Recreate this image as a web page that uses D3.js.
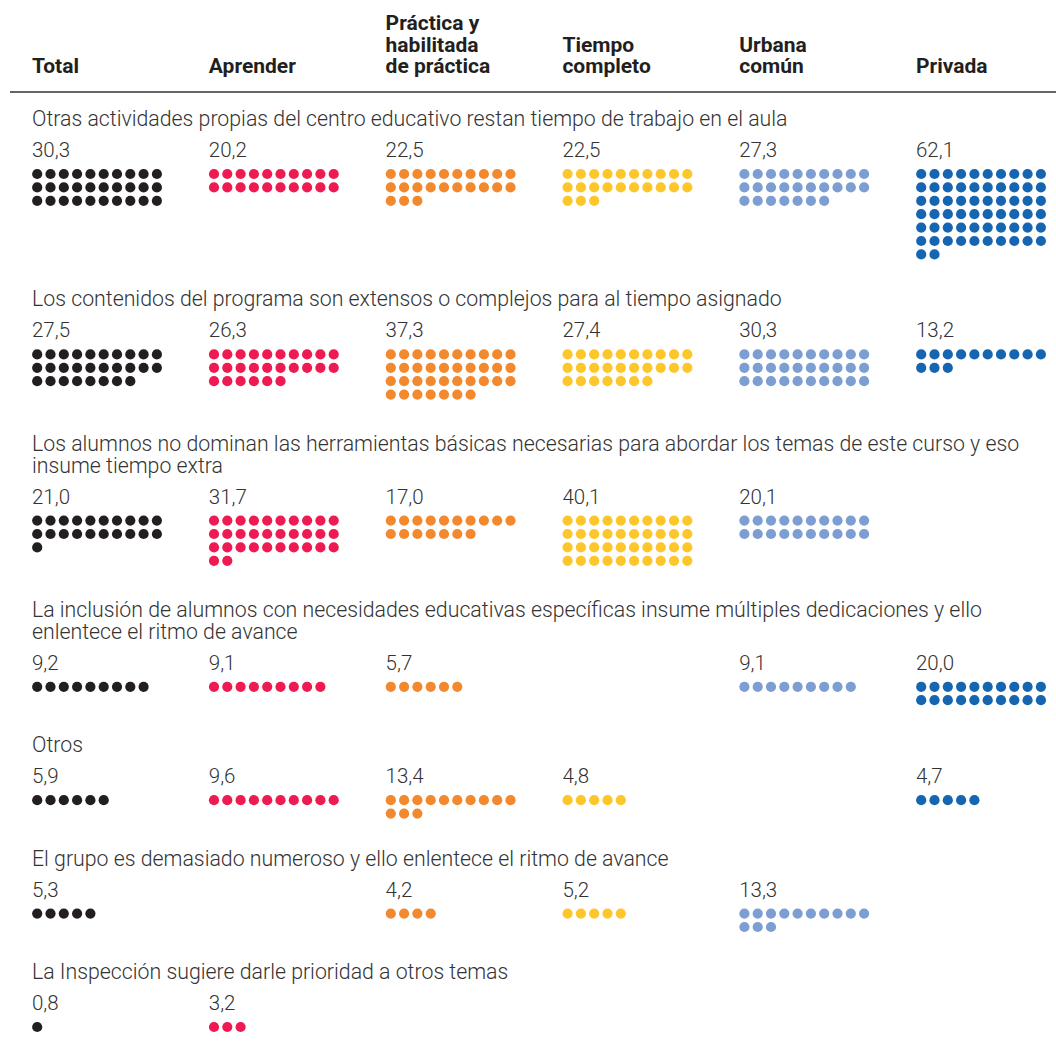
<!DOCTYPE html>
<html>
<head>
<meta charset="utf-8">
<script src="https://cdn.jsdelivr.net/npm/d3@7"></script>
<style>
    body { margin: 0; background: #fff; }
    #chart { width: 1056px; height: 1046px; }
    text { font-family: Roboto, "Noto Sans", sans-serif; }
    .head { font-weight: 700; font-size: 21px; fill: #231f20; }
    .question { font-weight: 300; font-size: 21.3px; fill: #333; }
    .value { font-weight: 300; font-size: 20.5px; fill: #333; }
</style>
</head>
<body>
<div id="chart"></div>
<script>

// columnas (cabezales en una o varias lineas)
var columns = ["Total", "Aprender", "Práctica", "Tiempo", "Urbana", "Privada"];
var columnLabels = [
    ["Total"],
    ["Aprender"],
    ["Práctica y", "habilitada", "de práctica"],
    ["Tiempo", "completo"],
    ["Urbana", "común"],
    ["Privada"]
];
var columnColors = ["#231f20", "#ee1a52", "#f3892e", "#fdc62b", "#7d9ed3", "#1565b1"];

// preguntas (texto ya cortado en lineas como en el original)
var questions = [
    ["Otras actividades propias del centro educativo restan tiempo de trabajo en el aula"],
    ["Los contenidos del programa son extensos o complejos para al tiempo asignado"],
    ["Los alumnos no dominan las herramientas básicas necesarias para abordar los temas de este curso y eso", "insume tiempo extra"],
    ["La inclusión de alumnos con necesidades educativas específicas insume múltiples dedicaciones y ello", "enlentece el ritmo de avance"],
    ["Otros"],
    ["El grupo es demasiado numeroso y ello enlentece el ritmo de avance"],
    ["La Inspección sugiere darle prioridad a otros temas"]
];

// porcentajes por pregunta, en el orden de columns (null = sin dato)
var values = [
    [30.3, 20.2, 22.5, 22.5, 27.3, 62.1],
    [27.5, 26.3, 37.3, 27.4, 30.3, 13.2],
    [21.0, 31.7, 17.0, 40.1, 20.1, null],
    [9.2, 9.1, 5.7, null, 9.1, 20.0],
    [5.9, 9.6, 13.4, 4.8, null, 4.7],
    [5.3, null, 4.2, 5.2, 13.3, null],
    [0.8, 3.2, null, null, null, null]
];

var perRow = 10;

var width = document.querySelector("#chart").clientWidth;
var height = document.querySelector("#chart").clientHeight;

var svg = d3.select("#chart")
    .append("svg")
    .attr("width", width)
    .attr("height", height);

var xScale = d3.scaleBand()
    .domain(columns)
    .range([32, 32 + 6 * 176.8]);

var dotX = d3.scaleLinear().domain([0, 1]).range([5.2, 5.2 + 13.3]);
var dotY = d3.scaleLinear().domain([0, 1]).range([0, 13.4]);

var color = d3.scaleOrdinal().domain(columns).range(columnColors);

var fmt = function(v) { return d3.format(".1f")(v).replace(".", ","); };

// cabezales
var headBottom = 73;
var lineH = 22;

columns.forEach(function(c, i) {
    var lines = columnLabels[i];
    svg.append("g")
        .selectAll("text")
        .data(lines)
        .enter()
        .append("text")
            .attr("class", "head")
            .attr("x", xScale(c))
            .attr("y", function(d, j) { return headBottom - (lines.length - 1 - j) * 21.5; })
            .text(function(d) { return d; });
});

svg.append("line")
    .attr("x1", 10)
    .attr("x2", width)
    .attr("y1", 92)
    .attr("y2", 92)
    .attr("stroke", "#333")
    .attr("stroke-width", 1.5);

// bloques
var y = 126;

questions.forEach(function(q, qi) {

    var g = svg.append("g");

    // las preguntas en dos lineas llevan algo mas de aire arriba
    if (qi > 0) y += (q.length - 1) * 4;

    g.selectAll("text.question")
        .data(q)
        .enter()
        .append("text")
            .attr("class", "question")
            .attr("x", 32)
            .attr("y", function(d, j) { return y + j * lineH; })
            .text(function(d) { return d; });

    var valueY = y + (q.length - 1) * lineH + 31;
    var dotTop = valueY + 17;

    var cells = columns.map(function(c, i) {
        return { col: c, value: values[qi][i] };
    }).filter(function(d) { return d.value !== null; });

    g.selectAll("text.value")
        .data(cells)
        .enter()
        .append("text")
            .attr("class", "value")
            .attr("x", function(d) { return xScale(d.col); })
            .attr("y", valueY)
            .text(function(d) { return fmt(d.value); });

    var maxRows = 0;

    cells.forEach(function(d) {
        var n = Math.round(d.value);
        var dots = d3.range(n);
        maxRows = Math.max(maxRows, Math.ceil(n / perRow));

        g.append("g")
            .selectAll("circle")
            .data(dots)
            .enter()
            .append("circle")
                .attr("cx", function(k) { return xScale(d.col) + dotX(k % perRow); })
                .attr("cy", function(k) { return dotTop + dotY(Math.floor(k / perRow)); })
                .attr("r", 5.1)
                .attr("fill", color(d.col));
    });

    y = dotTop + dotY(maxRows - 1) + 52;
});

</script>
</body>
</html>
